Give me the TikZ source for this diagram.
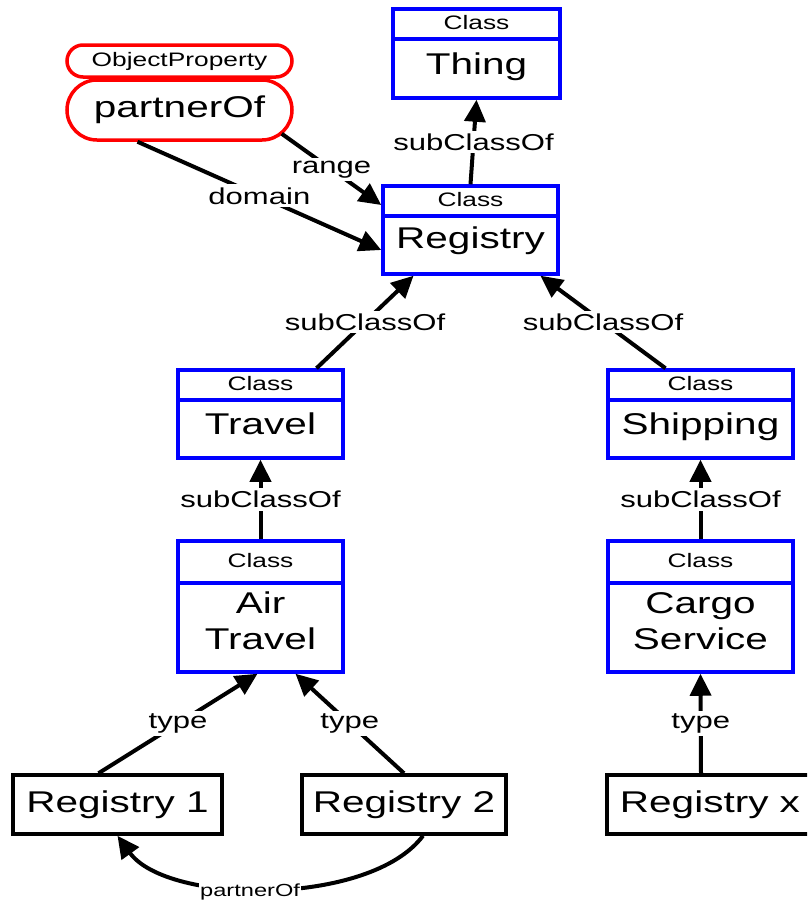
\documentclass[tikz,border=0pt]{standalone}
\usepackage{fontspec}
\setmainfont[FakeStretch=1.35]{Liberation Sans}
\usetikzlibrary{arrows.meta,shapes.multipart}

\newcommand{\hdrfont}{\fontsize{19.5}{23}\selectfont}
\newcommand{\bodyfont}{\fontsize{30}{36}\selectfont}
\newcommand{\lblfont}{\fontsize{23}{27}\selectfont}
\newcommand{\smlfont}{\fontsize{17.5}{21}\selectfont}
% header part of a class box: depth, total height of the strut
\newcommand{\clshead}[2]{\hdrfont\rule[-#1pt]{0pt}{#2pt}Class}

\tikzset{
  cls/.style={rectangle split, rectangle split parts=2, draw=blue, line width=3.5pt,
    inner sep=0pt, fill=white},
  prop/.style={draw=red, line width=3.5pt, fill=white, inner sep=0pt, minimum width=225pt},
  inst/.style={draw=black, line width=3.5pt, inner sep=0pt, minimum height=59pt, font=\bodyfont},
  rel/.style={line width=4pt, -{Triangle[length=22pt,width=21pt]}},
  lbl/.style={fill=white, inner sep=3pt, font=\lblfont},
}

\begin{document}
\begin{tikzpicture}[x=1pt, y=-1pt]
	\path[use as bounding box, clip] (0,0) rectangle (807,903);

	% classes
	\node[cls, minimum width=167pt] (thing) at (476.5, 53.5)
		{\clshead{8}{26.5}\nodepart{two}\bodyfont\rule[-22pt]{0pt}{55.5pt}Thing};
	\node[cls, minimum width=175pt] (reg) at (470.5, 230)
		{\clshead{8}{26.5}\nodepart{two}\bodyfont\rule[-24pt]{0pt}{54.5pt}Registry};
	\node[cls, minimum width=165pt] (travel) at (260.5, 414)
		{\clshead{8}{26.5}\nodepart{two}\bodyfont\rule[-22pt]{0pt}{54.5pt}Travel};
	\node[cls, minimum width=185pt] (ship) at (700.5, 414)
		{\clshead{8}{26.5}\nodepart{two}\bodyfont\rule[-22pt]{0pt}{54.5pt}Shipping};
	\node[cls, minimum width=165pt] (air) at (260.5, 606.5)
		{\clshead{14}{38.5}\nodepart{two}\bodyfont\rule[-57pt]{0pt}{85.5pt}\begin{tabular}[t]{@{}c@{}}Air\\Travel\end{tabular}};
	\node[cls, minimum width=185pt] (cargo) at (700.5, 606.5)
		{\clshead{14}{38.5}\nodepart{two}\bodyfont\rule[-57pt]{0pt}{85.5pt}\begin{tabular}[t]{@{}c@{}}Cargo\\Service\end{tabular}};

	% object property
	\node[prop, minimum height=32pt, rounded corners=16pt, font=\hdrfont] (propkind) at (179.5, 61) {ObjectProperty};
	\node[prop, minimum height=60pt, rounded corners=30pt, font=\bodyfont] (partner) at (179.5, 110) {partnerOf};

	% individuals
	\node[inst, minimum width=209pt] (reg1) at (117.5, 804.5) {Registry 1};
	\node[inst, minimum width=204pt] (reg2) at (404, 804.5)   {Registry 2};
	\node[inst, minimum width=206pt] (regx) at (710, 804.5)   {Registry x};

	\draw[rel] (reg.north) -- node[lbl]{subClassOf} (thing.south);
	\draw[rel] ([shift={(-12pt,8pt)}]partner.south east) -- node[lbl]{range} ([yshift=25pt]reg.west);
	\draw[rel] ([xshift=-42pt]partner.south) -- node[lbl]{domain} ([yshift=-20pt]reg.west);
	\draw[rel] ([xshift=56pt]travel.north) -- node[lbl]{subClassOf} ([xshift=-57pt]reg.south);
	\draw[rel] ([xshift=-35pt]ship.north) -- node[lbl]{subClassOf} ([xshift=70pt]reg.south);
	\draw[rel] (air.north) -- node[lbl]{subClassOf} (travel.south);
	\draw[rel] (cargo.north) -- node[lbl]{subClassOf} (ship.south);
	\draw[rel] ([xshift=-19pt]reg1.north) -- node[lbl]{type} ([xshift=-3pt]air.south);
	\draw[rel] (reg2.north) -- node[lbl]{type} ([xshift=35pt]air.south);
	\draw[rel] ([xshift=-9pt]regx.north) -- node[lbl]{type} (cargo.south);
	\draw[rel] ([xshift=19pt]reg2.south) .. controls +(-53,71) and +(50,69) .. (reg1.south)
		node[lbl, pos=0.55, yshift=-4pt, inner sep=1pt, font=\smlfont]{partnerOf};
\end{tikzpicture}
\end{document}
